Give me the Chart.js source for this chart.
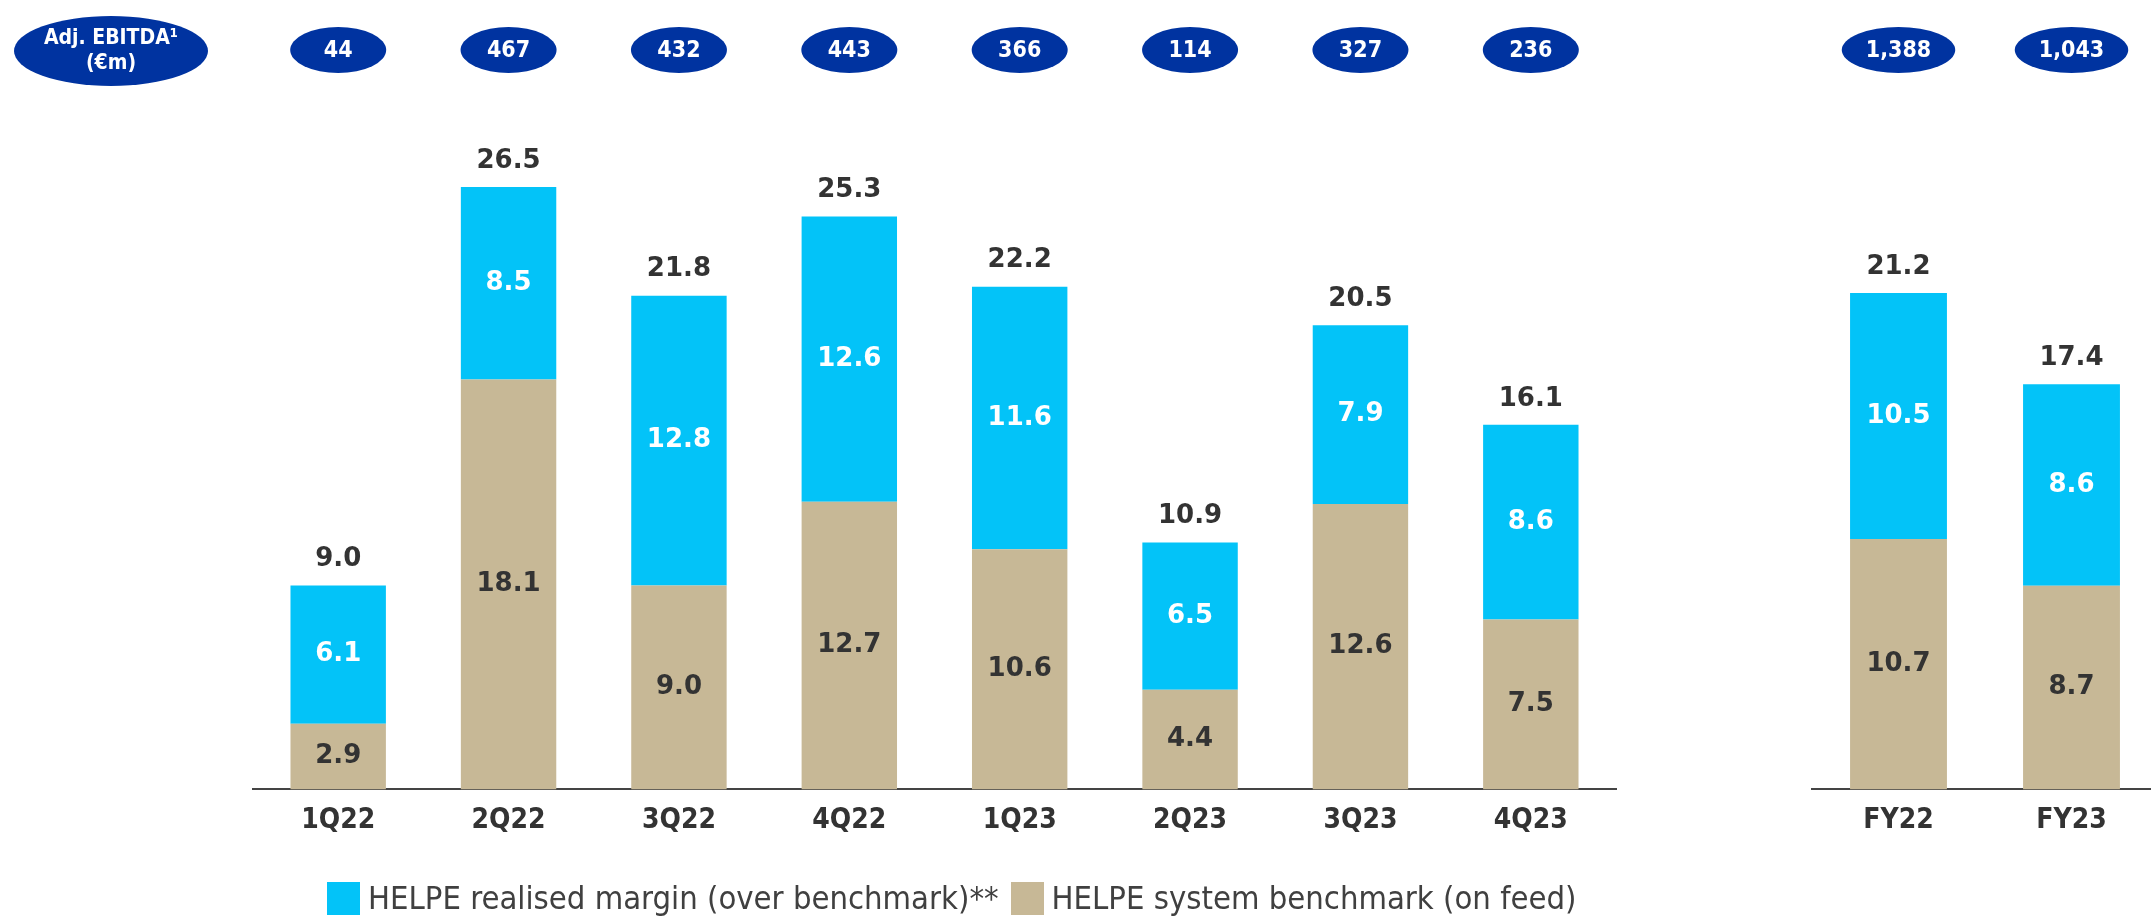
<!DOCTYPE html>
<html>
<head>
<meta charset="utf-8">
<script src="https://cdn.jsdelivr.net/npm/chart.js@4.4.1/dist/chart.umd.min.js"></script>
<style>
  html, body { margin: 0; padding: 0; background: #fff; width: 2151px; height: 918px; overflow: hidden; position: relative; }
  #boxLeft { position: absolute; left: 0; top: 0; width: 1660px; height: 918px; }
  #boxRight { position: absolute; left: 1700px; top: 0; width: 500px; height: 918px; }
  #legend { position: absolute; left: 327px; top: 881px; height: 34px; display: flex; align-items: center;
            font-family: 'DejaVu Sans Condensed', sans-serif; font-size: 32.5px; color: #404040; white-space: nowrap; }
  #legend .box { display: inline-block; width: 33px; height: 33px; margin-right: 8px; }
  #legend .txt { margin-right: 12px; }
</style>
</head>
<body>
<div id="boxLeft"><canvas id="chartLeft"></canvas></div>
<div id="boxRight"><canvas id="chartRight"></canvas></div>
<div id="legend"></div>
<script>
// quarters
const quarters = ['1Q22', '2Q22', '3Q22', '4Q22', '1Q23', '2Q23', '3Q23', '4Q23'];
const benchQ = [2.9, 18.1, 9.0, 12.7, 10.6, 4.4, 12.6, 7.5];
const marginQ = [6.1, 8.5, 12.8, 12.6, 11.6, 6.5, 7.9, 8.6];
const totalQ = [9.0, 26.5, 21.8, 25.3, 22.2, 10.9, 20.5, 16.1];
const ebitdaQ = ['44', '467', '432', '443', '366', '114', '327', '236'];

// full years
const years = ['FY22', 'FY23'];
const benchFY = [10.7, 8.7];
const marginFY = [10.5, 8.6];
const totalFY = [21.2, 17.4];
const ebitdaFY = ['1,388', '1,043'];

const marginLabel = 'HELPE realised margin (over benchmark)**';
const benchLabel = 'HELPE system benchmark (on feed)';
const cyan = '#03c3f8';
const tan = '#c7b896';
const navy = '#0033a0';

// labels inside / above the bars + the blue ellipses on top
const barLabels = {
  id: 'barLabels',
  afterDatasetsDraw(chart, args, opts) {
    const ctx = chart.ctx;
    ctx.save();
    ctx.textAlign = 'center';
    ctx.textBaseline = 'middle';
    ctx.font = 'bold 26px "DejaVu Sans"';
    chart.data.datasets.forEach((ds, i) => {
      chart.getDatasetMeta(i).data.forEach((bar, j) => {
        ctx.fillStyle = ds.labelColor;
        ctx.fillText(ds.data[j].toFixed(1), bar.x, (bar.y + bar.base) / 2);
      });
    });
    const top = chart.getDatasetMeta(chart.data.datasets.length - 1).data;
    ctx.fillStyle = '#333';
    opts.totals.forEach((t, j) => ctx.fillText(t.toFixed(1), top[j].x, top[j].y - 26));

    ctx.font = 'bold 23px "DejaVu Sans Condensed"';
    opts.ebitda.forEach((v, j) => {
      const x = top[j].x;
      const rx = Math.max(48, ctx.measureText(v).width / 2 + 24);
      ctx.fillStyle = navy;
      ctx.beginPath();
      ctx.ellipse(x, 50, rx, 23, 0, 0, Math.PI * 2);
      ctx.fill();
      ctx.fillStyle = '#fff';
      ctx.fillText(v, x, 51);
    });

    if (opts.header) {
      ctx.fillStyle = navy;
      ctx.beginPath();
      ctx.ellipse(111, 51, 97, 35, 0, 0, Math.PI * 2);
      ctx.fill();
      ctx.fillStyle = '#fff';
      ctx.font = 'bold 21px "DejaVu Sans Condensed"';
      ctx.fillText('Adj. EBITDA¹', 111, 39);
      ctx.fillText('(€m)', 111, 64);
    }
    ctx.restore();
  }
};

function makeChart(canvas, labels, bench, margin, totals, ebitda, pad, yMax, header) {
  return new Chart(canvas, {
    type: 'bar',
    data: {
      labels: labels,
      datasets: [
        { label: benchLabel, data: bench, backgroundColor: tan, labelColor: '#333' },
        { label: marginLabel, data: margin, backgroundColor: cyan, labelColor: '#fff' }
      ]
    },
    options: {
      responsive: true,
      maintainAspectRatio: false,
      animation: false,
      layout: { padding: pad },
      datasets: { bar: { categoryPercentage: 1, barPercentage: 0.56 } },
      plugins: {
        legend: { display: false },
        tooltip: { enabled: false },
        barLabels: { totals: totals, ebitda: ebitda, header: header }
      },
      scales: {
        x: {
          stacked: true,
          grid: { display: false, drawTicks: false },
          border: { display: true, color: '#444', width: 2 },
          ticks: { color: '#333', padding: 15, font: { family: 'DejaVu Sans Condensed', weight: 'bold', size: 28 } }
        },
        y: { stacked: true, display: false, min: 0, max: yMax }
      }
    },
    plugins: [barLabels]
  });
}

makeChart(document.getElementById('chartLeft'), quarters, benchQ, marginQ, totalQ, ebitdaQ,
  { left: 253, right: 44, top: 110, bottom: 65 }, 30, true);
makeChart(document.getElementById('chartRight'), years, benchFY, marginFY, totalFY, ebitdaFY,
  { left: 112, right: 42, top: 87, bottom: 65 }, 30, false);

// legend
const legend = document.getElementById('legend');
[[cyan, marginLabel], [tan, benchLabel]].forEach(([c, t]) => {
  legend.insertAdjacentHTML('beforeend', `<span class="box" style="background:${c}"></span><span class="txt">${t}</span>`);
});
</script>
</body>
</html>
